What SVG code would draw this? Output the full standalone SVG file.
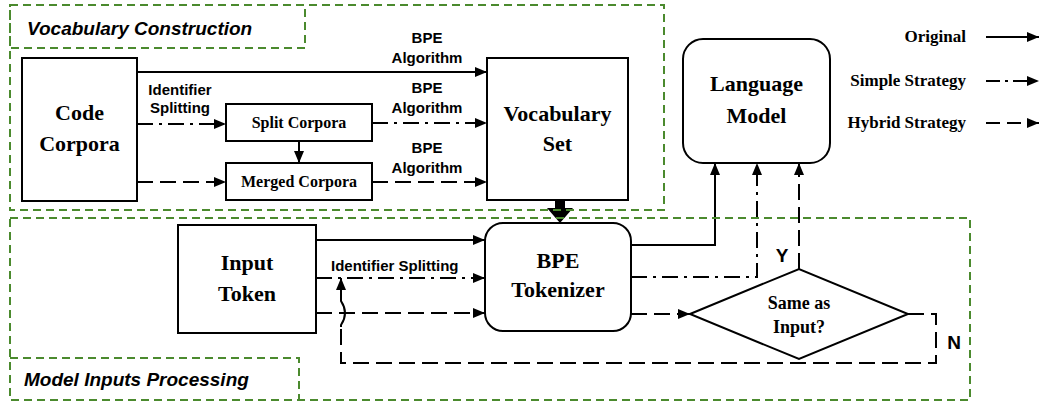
<svg xmlns="http://www.w3.org/2000/svg" width="1041" height="405" viewBox="0 0 1041 405">
<style>
.box{fill:#fff;stroke:#000;stroke-width:2}
.nt{font-family:"Liberation Serif",serif;font-weight:bold;font-size:22px;text-anchor:middle;fill:#000}
.st{font-family:"Liberation Serif",serif;font-weight:bold;font-size:16px;text-anchor:middle;fill:#000}
.dt{font-family:"Liberation Serif",serif;font-weight:bold;font-size:18px;text-anchor:middle;fill:#000}
.lg{font-family:"Liberation Serif",serif;font-weight:bold;font-size:17px;text-anchor:end;fill:#000}
.el{font-family:"Liberation Sans",sans-serif;font-weight:bold;font-size:15px;fill:#000}
.yn{font-family:"Liberation Sans",sans-serif;font-weight:bold;font-size:19px;text-anchor:middle;fill:#000}
.sec{font-family:"Liberation Sans",sans-serif;font-weight:bold;font-style:italic;font-size:19px;fill:#000}
.ln{fill:none;stroke:#000;stroke-width:2}
.dd{stroke-dasharray:16,6,3,6}
.da{stroke-dasharray:16,7}
.grn{fill:none;stroke:#4b8a2e;stroke-width:2;stroke-dasharray:8,5}
</style>
<defs>
<marker id="ah" viewBox="0 0 12 10" refX="12" refY="5" markerWidth="12" markerHeight="10" markerUnits="userSpaceOnUse" orient="auto">
<path d="M0,0 L12,5 L0,10 Z" fill="#000"/>
</marker>
</defs>
<rect width="1041" height="405" fill="#fff"/>

<g id="connectors">
<path class="ln" d="M137,72 H487" marker-end="url(#ah)"/>
<path class="ln dd" d="M137,124 H226" marker-end="url(#ah)"/>
<path class="ln da" d="M137,182 H226" marker-end="url(#ah)"/>
<path class="ln" d="M299,141 V163" marker-end="url(#ah)"/>
<path class="ln dd" d="M372,123 H487" marker-end="url(#ah)"/>
<path class="ln da" d="M372,182 H487" marker-end="url(#ah)"/>
<path d="M555,200 H565 V208 H573 L560,223 L547,208 H555 Z" fill="#000"/>
<path class="ln" d="M316,240 H485" marker-end="url(#ah)"/>
<path class="ln dd" d="M316,278 H485" marker-end="url(#ah)"/>
<path class="ln da" d="M316,313 H485" marker-end="url(#ah)"/>
<path class="ln da" d="M908,314 H936 V363 H341 V327"/>
<path class="ln" d="M341,327 V325 Q349,313 341,301 V278" marker-end="url(#ah)"/>
<path class="ln" d="M631,245 H715 V163" marker-end="url(#ah)"/>
<path class="ln dd" d="M631,277 H757 V163" marker-end="url(#ah)"/>
<path class="ln da" d="M799,269 V163" marker-end="url(#ah)"/>
<path class="ln da" d="M631,314 H690" marker-end="url(#ah)"/>
<text class="el" x="180" y="95" text-anchor="middle">Identifier</text>
<text class="el" x="180" y="113" text-anchor="middle">Splitting</text>
<text class="el" x="427" y="43" text-anchor="middle">BPE</text>
<text class="el" x="427" y="63" text-anchor="middle">Algorithm</text>
<text class="el" x="427" y="93" text-anchor="middle">BPE</text>
<text class="el" x="427" y="113" text-anchor="middle">Algorithm</text>
<text class="el" x="427" y="153" text-anchor="middle">BPE</text>
<text class="el" x="427" y="173" text-anchor="middle">Algorithm</text>
<text class="el" x="331" y="271">Identifier Splitting</text>
<text class="yn" x="782" y="262">Y</text>
<text class="yn" x="954" y="349">N</text>
</g>

<g id="code-corpora">
<rect class="box" x="22" y="58" width="115" height="143"/>
<text class="nt" x="79.5" y="120">Code</text>
<text class="nt" x="79.5" y="151">Corpora</text>
</g>
<g id="split-corpora">
<rect class="box" x="226" y="104" width="146" height="37"/>
<text class="st" x="299" y="128">Split Corpora</text>
</g>
<g id="merged-corpora">
<rect class="box" x="226" y="163" width="146" height="37"/>
<text class="st" x="299" y="187">Merged Corpora</text>
</g>
<g id="vocabulary-set">
<rect class="box" x="487" y="58" width="141" height="142"/>
<text class="nt" x="557.5" y="121">Vocabulary</text>
<text class="nt" x="557.5" y="151">Set</text>
</g>
<g id="language-model">
<rect class="box" x="683" y="39" width="147" height="124" rx="20"/>
<text class="nt" x="756.5" y="91">Language</text>
<text class="nt" x="756.5" y="123">Model</text>
</g>
<g id="input-token">
<rect class="box" x="178" y="225" width="138" height="108"/>
<text class="nt" x="247" y="270">Input</text>
<text class="nt" x="247" y="301">Token</text>
</g>
<g id="bpe-tokenizer">
<rect class="box" x="485" y="223" width="146" height="108" rx="18"/>
<text class="nt" x="558" y="268">BPE</text>
<text class="nt" x="558" y="297">Tokenizer</text>
</g>
<g id="same-as-input">
<path class="box" d="M690,314 L799,269 L908,314 L799,359 Z"/>
<text class="dt" x="799" y="309">Same as</text>
<text class="dt" x="799" y="333">Input?</text>
</g>

<g id="legend">
<text class="lg" x="966" y="42">Original</text>
<text class="lg" x="966" y="86">Simple Strategy</text>
<text class="lg" x="966" y="128">Hybrid Strategy</text>
<path class="ln" d="M986,37 H1039" marker-end="url(#ah)"/>
<path class="ln" d="M986,81 H1039" stroke-dasharray="14,5,3,5" marker-end="url(#ah)"/>
<path class="ln" d="M986,123 H1039" stroke-dasharray="14,7" marker-end="url(#ah)"/>
</g>

<g id="vocabulary-construction">
<rect class="grn" x="10" y="5" width="654" height="205"/>
<rect class="grn" x="10" y="5" width="295" height="43"/>
<text class="sec" x="27" y="35">Vocabulary Construction</text>
</g>
<g id="model-inputs-processing">
<rect class="grn" x="10" y="218" width="960" height="182"/>
<rect class="grn" x="10" y="358" width="289" height="42"/>
<text class="sec" x="24" y="386">Model Inputs Processing</text>
</g>
</svg>
